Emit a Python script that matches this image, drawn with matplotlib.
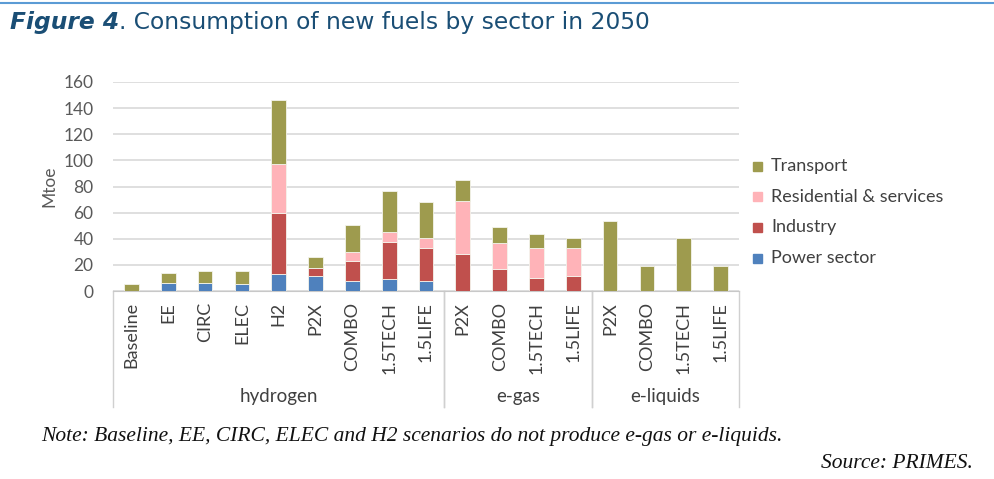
import numpy as np
import matplotlib.pyplot as plt
from matplotlib.transforms import blended_transform_factory
from matplotlib.lines import Line2D

# scenarios per fuel group
groups = ['hydrogen', 'e-gas', 'e-liquids']
scenarios = [
    ['Baseline', 'EE', 'CIRC', 'ELEC', 'H2', 'P2X', 'COMBO', '1.5TECH', '1.5LIFE'],
    ['P2X', 'COMBO', '1.5TECH', '1.5LIFE'],
    ['P2X', 'COMBO', '1.5TECH', '1.5LIFE'],
]

# Mtoe (hydrogen | e-gas | e-liquids)
power = [0, 6.5, 6.5, 5, 12.8, 11.5, 8, 9, 8,
         0, 0, 0, 0,
         0, 0, 0, 0]
industry = [0, 0, 0, 0, 47.2, 6, 14.8, 28.7, 24.8,
            28.6, 16.6, 10, 11.5,
            0, 0, 0, 0]
residential = [0, 0, 0, 0, 37.6, 0, 7.4, 7.7, 7.4,
               40.3, 19.9, 22.7, 21.2,
               0, 0, 0, 0]
transport = [5, 7.5, 9, 10.3, 49, 8.7, 20.2, 31.2, 27.6,
             16.3, 12.5, 11.2, 7.6,
             53.9, 19.1, 40.3, 19.1]

series = [('Power sector', power, '#4F81BD'),
          ('Industry', industry, '#C0504D'),
          ('Residential & services', residential, '#FFB3B8'),
          ('Transport', transport, '#9E9B4E')]

plt.rcParams['font.family'] = ['Lato', 'DejaVu Sans']

fig = plt.figure(figsize=(9.95, 4.79), dpi=100)
ax = fig.add_axes([113/995, 1-291/479, (739-113)/995, (291-82)/479])

labels = [s for g in scenarios for s in g]
x = np.arange(len(labels))
bottom = np.zeros(len(labels))
handles = []
for name, vals, col in series:
    vals = np.array(vals, dtype=float)
    ax.bar(x, vals, 0.4, bottom=bottom, color=col, edgecolor='#F4F4EC', linewidth=0.6, zorder=3)
    bottom += vals
    handles.append((name, col))

ax.set_xlim(-0.5, len(labels) - 0.5)
ax.set_ylim(0, 160)
ax.set_yticks(np.arange(0, 161, 20))
ax.yaxis.grid(True, color='#D9D9D9', linewidth=1.2, zorder=0)
ax.set_axisbelow(True)
for s in ['left', 'right', 'top']:
    ax.spines[s].set_visible(False)
ax.spines['bottom'].set_color('#C8C8C8')
ax.tick_params(axis='y', length=0, labelsize=12.5, labelcolor='#595959', pad=14)
ax.set_xticks(x)
ax.set_xticklabels(labels, rotation=90, fontsize=13, color='#404040')
ax.tick_params(axis='x', length=0, pad=8)
ax.set_ylabel('Mtoe', fontsize=12.5, color='#595959', labelpad=4)

# group labels and separators below the axis
tr = blended_transform_factory(ax.transData, ax.transAxes)
start = -0.5
for g, sc in zip(groups, scenarios):
    end = start + len(sc)
    ax.text((start + end) / 2, -0.505, g, transform=tr, ha='center', va='center',
            fontsize=13.5, color='#404040')
    for xx in (start, end):
        ax.add_line(Line2D([xx, xx], [0, -0.555], transform=tr, color='#D0D0D0',
                           linewidth=1, clip_on=False))
    start = end

# legend (top to bottom: Transport ... Power sector)
for i, (name, col) in enumerate(reversed(handles)):
    y = 1 - (166 + i * 30.7) / 479
    fig.patches.append(plt.Rectangle((753/995, y - 4.5/479), 9/995, 9/479, color=col,
                                     transform=fig.transFigure))
    fig.text(771/995, y, name, fontsize=13, color='#404040', va='center')

# header line and title
fig.add_artist(Line2D([0, 1], [1 - 3/479, 1 - 3/479], color='#5B9BD5', linewidth=1.5))
t1 = fig.text(10/995, 1 - 22/479, 'Figure 4', fontsize=16.8, fontweight='bold', fontstyle='italic',
              color='#1A4E75', va='center', family='DejaVu Sans')
renderer = fig.canvas.get_renderer()
bb = t1.get_window_extent(renderer)
fig.text(bb.x1 / fig.bbox.width, 1 - 22/479, '. Consumption of new fuels by sector in 2050',
         fontsize=16.8, color='#1A4E75', va='center', family='DejaVu Sans')

# footnotes
fig.text(41/995, 1 - 437/479,
         'Note: Baseline, EE, CIRC, ELEC and H2 scenarios do not produce e-gas or e-liquids.',
         fontsize=15.5, fontstyle='italic', family='Liberation Serif', va='center', color='#111111')
fig.text(973/995, 1 - 464/479, 'Source: PRIMES.', fontsize=15.5, fontstyle='italic',
         family='Liberation Serif', va='center', ha='right', color='#111111')

fig.savefig('out.png', dpi=100)
